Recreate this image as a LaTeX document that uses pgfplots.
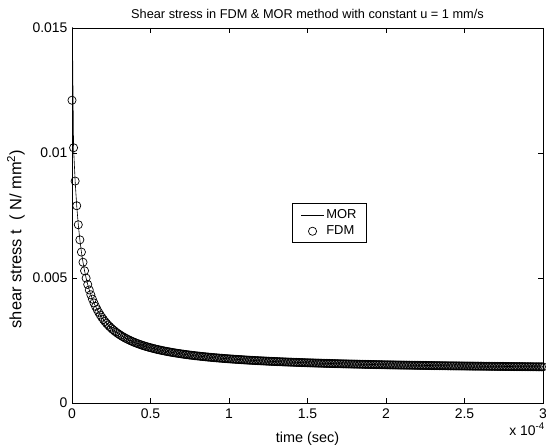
\documentclass[border=0pt]{standalone}
\usepackage{fontspec}
\setmainfont{Liberation Sans}
\usepackage{pgfplots}
\pgfplotsset{compat=1.18}
\usepackage{pgfplotstable}
\pgfplotsset{
  morleg/.style={legend image code/.code={\draw[##1] (0bp,0bp) -- (23bp,0bp);}},
  fdmleg/.style={legend image code/.code={\draw[##1] plot coordinates {(11.5bp,0bp)};}},
}

\pgfplotstableread{
t tau
0.00 0.012110
0.01 0.010210
0.02 0.008877
0.03 0.007890
0.04 0.007131
0.05 0.006527
0.06 0.006037
0.07 0.005630
0.08 0.005288
0.09 0.004995
0.10 0.004743
0.11 0.004522
0.12 0.004328
0.13 0.004156
0.14 0.004002
0.15 0.003864
0.16 0.003739
0.17 0.003626
0.18 0.003522
0.19 0.003428
0.20 0.003341
0.21 0.003261
0.22 0.003186
0.23 0.003118
0.24 0.003054
0.25 0.002994
0.26 0.002938
0.27 0.002886
0.28 0.002837
0.29 0.002790
0.30 0.002747
0.31 0.002706
0.32 0.002667
0.33 0.002630
0.34 0.002595
0.35 0.002562
0.36 0.002531
0.37 0.002501
0.38 0.002472
0.39 0.002445
0.40 0.002419
0.41 0.002394
0.42 0.002370
0.43 0.002347
0.44 0.002325
0.45 0.002304
0.46 0.002284
0.47 0.002265
0.48 0.002246
0.49 0.002228
0.50 0.002211
0.51 0.002194
0.52 0.002178
0.53 0.002162
0.54 0.002147
0.55 0.002133
0.56 0.002119
0.57 0.002105
0.58 0.002092
0.59 0.002079
0.60 0.002067
0.61 0.002055
0.62 0.002043
0.63 0.002032
0.64 0.002021
0.65 0.002010
0.66 0.002000
0.67 0.001990
0.68 0.001980
0.69 0.001971
0.70 0.001961
0.71 0.001952
0.72 0.001944
0.73 0.001935
0.74 0.001927
0.75 0.001919
0.76 0.001911
0.77 0.001903
0.78 0.001895
0.79 0.001888
0.80 0.001881
0.81 0.001874
0.82 0.001867
0.83 0.001860
0.84 0.001854
0.85 0.001847
0.86 0.001841
0.87 0.001835
0.88 0.001829
0.89 0.001823
0.90 0.001817
0.91 0.001812
0.92 0.001806
0.93 0.001801
0.94 0.001796
0.95 0.001791
0.96 0.001785
0.97 0.001780
0.98 0.001776
0.99 0.001771
1.00 0.001766
1.01 0.001762
1.02 0.001757
1.03 0.001753
1.04 0.001748
1.05 0.001744
1.06 0.001740
1.07 0.001736
1.08 0.001732
1.09 0.001728
1.10 0.001724
1.11 0.001720
1.12 0.001716
1.13 0.001712
1.14 0.001709
1.15 0.001705
1.16 0.001702
1.17 0.001698
1.18 0.001695
1.19 0.001691
1.20 0.001688
1.21 0.001685
1.22 0.001682
1.23 0.001679
1.24 0.001675
1.25 0.001672
1.26 0.001669
1.27 0.001666
1.28 0.001664
1.29 0.001661
1.30 0.001658
1.31 0.001655
1.32 0.001652
1.33 0.001650
1.34 0.001647
1.35 0.001644
1.36 0.001642
1.37 0.001639
1.38 0.001637
1.39 0.001634
1.40 0.001632
1.41 0.001629
1.42 0.001627
1.43 0.001625
1.44 0.001622
1.45 0.001620
1.46 0.001618
1.47 0.001616
1.48 0.001613
1.49 0.001611
1.50 0.001609
1.51 0.001607
1.52 0.001605
1.53 0.001603
1.54 0.001601
1.55 0.001599
1.56 0.001597
1.57 0.001595
1.58 0.001593
1.59 0.001591
1.60 0.001589
1.61 0.001587
1.62 0.001585
1.63 0.001584
1.64 0.001582
1.65 0.001580
1.66 0.001578
1.67 0.001576
1.68 0.001575
1.69 0.001573
1.70 0.001571
1.71 0.001570
1.72 0.001568
1.73 0.001566
1.74 0.001565
1.75 0.001563
1.76 0.001562
1.77 0.001560
1.78 0.001559
1.79 0.001557
1.80 0.001556
1.81 0.001554
1.82 0.001553
1.83 0.001551
1.84 0.001550
1.85 0.001548
1.86 0.001547
1.87 0.001546
1.88 0.001544
1.89 0.001543
1.90 0.001541
1.91 0.001540
1.92 0.001539
1.93 0.001537
1.94 0.001536
1.95 0.001535
1.96 0.001534
1.97 0.001532
1.98 0.001531
1.99 0.001530
2.00 0.001529
2.01 0.001527
2.02 0.001526
2.03 0.001525
2.04 0.001524
2.05 0.001523
2.06 0.001522
2.07 0.001520
2.08 0.001519
2.09 0.001518
2.10 0.001517
2.11 0.001516
2.12 0.001515
2.13 0.001514
2.14 0.001513
2.15 0.001512
2.16 0.001511
2.17 0.001510
2.18 0.001509
2.19 0.001508
2.20 0.001507
2.21 0.001506
2.22 0.001505
2.23 0.001504
2.24 0.001503
2.25 0.001502
2.26 0.001501
2.27 0.001500
2.28 0.001499
2.29 0.001498
2.30 0.001497
2.31 0.001496
2.32 0.001495
2.33 0.001494
2.34 0.001493
2.35 0.001492
2.36 0.001491
2.37 0.001491
2.38 0.001490
2.39 0.001489
2.40 0.001488
2.41 0.001487
2.42 0.001486
2.43 0.001485
2.44 0.001485
2.45 0.001484
2.46 0.001483
2.47 0.001482
2.48 0.001481
2.49 0.001481
2.50 0.001480
2.51 0.001479
2.52 0.001478
2.53 0.001478
2.54 0.001477
2.55 0.001476
2.56 0.001475
2.57 0.001474
2.58 0.001474
2.59 0.001473
2.60 0.001472
2.61 0.001472
2.62 0.001471
2.63 0.001470
2.64 0.001469
2.65 0.001469
2.66 0.001468
2.67 0.001467
2.68 0.001467
2.69 0.001466
2.70 0.001465
2.71 0.001465
2.72 0.001464
2.73 0.001463
2.74 0.001463
2.75 0.001462
2.76 0.001461
2.77 0.001461
2.78 0.001460
2.79 0.001459
2.80 0.001459
2.81 0.001458
2.82 0.001458
2.83 0.001457
2.84 0.001456
2.85 0.001456
2.86 0.001455
2.87 0.001454
2.88 0.001454
2.89 0.001453
2.90 0.001453
2.91 0.001452
2.92 0.001452
2.93 0.001451
2.94 0.001450
2.95 0.001450
2.96 0.001449
2.97 0.001449
2.98 0.001448
2.99 0.001448
3.00 0.001447
}\fdm

\begin{document}
\begin{tikzpicture}
\begin{axis}[
  at={(0,0)}, anchor=south west,
  scale only axis, width=471bp, height=375bp,
  xmin=0, xmax=3, ymin=0, ymax=0.015,
  xtick={0,0.5,1,1.5,2,2.5,3},
  xticklabels={0,0.5,1,1.5,2,2.5,3},
  ytick={0,0.005,0.01,0.015},
  yticklabels={0,0.005,0.01,0.015},
  scaled y ticks=false,
  tick align=inside,
  major tick length=5bp,
  every tick/.style={black, line width=0.6bp},
  axis line style={black, line width=0.7bp},
  tick label style={font=\fontsize{14}{16}\selectfont},
  xticklabel style={yshift=-2bp},
  yticklabel style={xshift=-1bp},
  clip=true,
  legend style={at={(0.547,0.48)}, anchor=center, draw=black, line width=0.6bp,
    font=\fontsize{13}{15}\selectfont, inner xsep=8bp, inner ysep=4bp,
    row sep=2bp, cells={anchor=west},
    /tikz/every even column/.append style={column sep=7bp}},
  legend cell align=left,
]
\addplot[black, line width=0.6bp, forget plot] coordinates {(0,0.0165) (0.01,0.010210)};
\addplot[black, line width=0.6bp, skip coords between index={0}{1}, morleg] table[x=t, y=tau] {\fdm};
\addlegendentry{MOR}
\addplot[black, only marks, mark=o, mark size=4.1bp, line width=0.7bp, fdmleg] table[x=t, y=tau] {\fdm};
\addlegendentry{FDM}
\end{axis}
\node[anchor=base, font=\fontsize{12.8}{14}\selectfont] at (235.5bp,384bp) {Shear stress in FDM \& MOR method with constant u = 1 mm/s};
\node[anchor=base, font=\fontsize{14.5}{16}\selectfont] at (235.5bp,-39bp) {time (sec)};
\node[anchor=south, rotate=90, inner sep=0pt, font=\fontsize{16.5}{18}\selectfont] at (-47bp,164bp) {shear stress t\ \ ( N/ mm\textsuperscript{2})};
\node[anchor=north east, inner sep=0pt, font=\fontsize{14}{16}\selectfont] at (473bp,-20bp) {x 10\textsuperscript{-4}};
\pgfresetboundingbox
\path (-72bp,-45bp) rectangle (474bp,403bp);
\end{tikzpicture}
\end{document}
